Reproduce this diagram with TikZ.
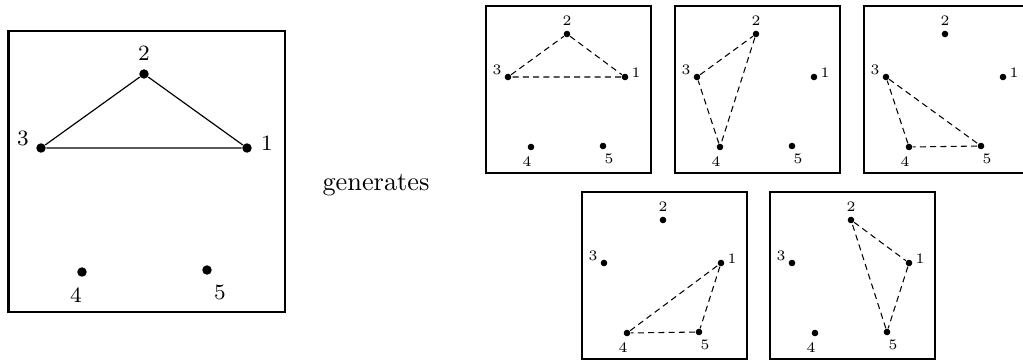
\documentclass[tikz,border=0pt]{standalone}
\usepackage{fontspec}
\usepackage{tikz}
\usetikzlibrary{calc}
\tikzset{
  bigframe/.style={line width=1.1pt},
  smallframe/.style={line width=1.0pt},
  bigdot/.style={circle,fill=black,inner sep=0pt,minimum size=3.6pt},
  smalldot/.style={circle,fill=black,inner sep=0pt,minimum size=2.5pt},
  biglabel/.style={inner sep=0pt,font=\fontsize{8.3}{10}\selectfont},
  smalllabel/.style={inner sep=0pt,font=\fontsize{5.5}{6.5}\selectfont},
  solidedge/.style={line width=0.45pt},
  dashedge/.style={line width=0.4pt,dash pattern=on 2.3pt off 1.6pt}
}
% one small panel: name, left, top
\newcommand{\smallpanel}[3]{%
  \draw[smallframe] (#2,#3) rectangle ++(165,167);
  \foreach \pN/\pX/\pY/\lX/\lY in {1/139/71/150/67,2/81/28/81/15,3/22/71/11/64,4/45/141/41/156,5/117/140/123/153}{
    \node[smalldot] (#1p\pN) at (#2+\pX,#3+\pY) {};
    \node[smalllabel] (#1l\pN) at (#2+\lX,#3+\lY) {\pN};
  }
}

\begin{document}
\begin{tikzpicture}[x=0.38pt,y=-0.38pt]
  \useasboundingbox (0,0) rectangle (1023,361);
  \clip (0,0) rectangle (1023,361);
  % the given point set
  \draw[bigframe] (8.5,31) rectangle (285,312);
  \foreach \pN/\pX/\pY/\lX/\lY in {1/247/148/267/143,2/144/74/144/53,3/41/148/23/138,4/82/272/76/295,5/207/270/220/292}{
    \node[bigdot] (gp\pN) at (\pX,\pY) {};
    \node[biglabel] (gl\pN) at (\lX,\lY) {\pN};
  }
  \draw[solidedge] (gp3) -- (gp2) -- (gp1) -- (gp3);
  \node[anchor=base] (gen) at (376,190) {generates};
  % the triangles it generates
  \smallpanel{a}{486}{6}
  \smallpanel{b}{675}{6}
  \smallpanel{c}{864}{6}
  \smallpanel{d}{582}{192}
  \smallpanel{e}{770}{192}
  \draw[dashedge] (ap3) -- (ap2) -- (ap1) -- (ap3);
  \draw[dashedge] (bp3) -- (bp2) -- (bp4) -- (bp3);
  \draw[dashedge] (cp3) -- (cp5) -- (cp4) -- (cp3);
  \draw[dashedge] (dp4) -- (dp1) -- (dp5) -- (dp4);
  \draw[dashedge] (ep2) -- (ep1) -- (ep5) -- (ep2);
\end{tikzpicture}
\end{document}
